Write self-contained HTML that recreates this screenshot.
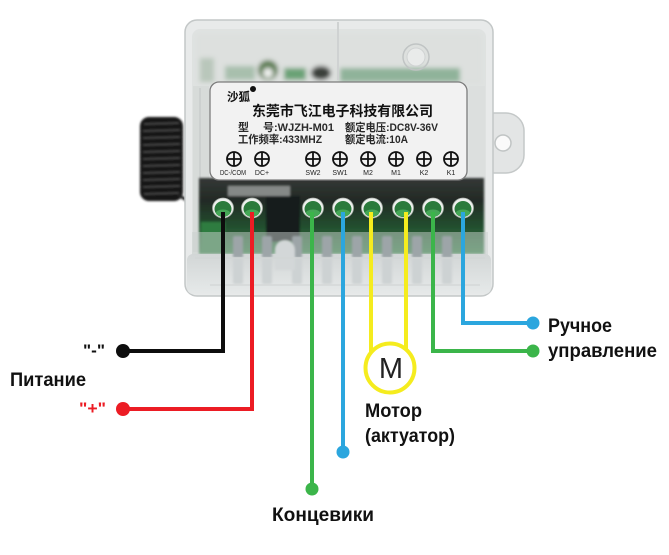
<!DOCTYPE html>
<html><head><meta charset="utf-8">
<style>
html,body{margin:0;padding:0;background:#fff;}
svg{display:block;}
.t{font-family:"Liberation Sans","Noto Sans CJK SC",sans-serif;font-weight:bold;}
.c{font-family:"Liberation Sans","Noto Sans CJK SC",sans-serif;}
</style></head><body>
<svg width="669" height="555" viewBox="0 0 669 555" xmlns="http://www.w3.org/2000/svg">
<defs>
<filter id="b1" x="-10%" y="-10%" width="120%" height="120%"><feGaussianBlur stdDeviation="1"/></filter>
<filter id="b2" x="-30%" y="-30%" width="160%" height="160%"><feGaussianBlur stdDeviation="2.5"/></filter>
<linearGradient id="pcb" x1="0" y1="0" x2="0" y2="1">
 <stop offset="0" stop-color="#343836"/>
 <stop offset="0.3" stop-color="#232a25"/>
 <stop offset="0.65" stop-color="#24502f"/>
 <stop offset="1" stop-color="#2f7d41"/>
</linearGradient>
<linearGradient id="bot" x1="0" y1="0" x2="0" y2="1">
 <stop offset="0" stop-color="#d2d6d6"/>
 <stop offset="1" stop-color="#e6e9e9"/>
</linearGradient>
</defs>
<rect width="669" height="555" fill="#fff"/>

<!-- antenna coil -->
<g filter="url(#b1)">
 <rect x="140" y="117" width="43" height="84" rx="9" fill="#151515"/>
 <g stroke="#505050" stroke-width="1.2">
  <line x1="144" y1="124" x2="179" y2="123"/>
  <line x1="143" y1="131" x2="180" y2="130"/>
  <line x1="143" y1="138" x2="180" y2="137"/>
  <line x1="143" y1="145" x2="180" y2="144"/>
  <line x1="143" y1="152" x2="180" y2="151"/>
  <line x1="143" y1="159" x2="180" y2="158"/>
  <line x1="143" y1="166" x2="180" y2="165"/>
  <line x1="143" y1="173" x2="180" y2="172"/>
  <line x1="143" y1="180" x2="180" y2="179"/>
  <line x1="143" y1="187" x2="180" y2="186"/>
  <line x1="144" y1="194" x2="179" y2="193"/>
 </g>
 <path d="M178 195 L190 202" stroke="#222" stroke-width="3"/>
</g>

<!-- right tab -->
<path d="M486 113 h20 a18 18 0 0 1 18 18 v24 a18 18 0 0 1 -18 18 h-20 z" fill="#e3e5e5" stroke="#c4c8c8" stroke-width="1.5"/>
<circle cx="503" cy="143" r="8" fill="#fafafa" stroke="#c0c4c4" stroke-width="1.5"/>

<!-- box body -->
<rect x="185" y="20" width="308" height="276" rx="12" fill="#e8eaea" stroke="#c3c7c7" stroke-width="1.5"/>
<rect x="192" y="29" width="294" height="261" rx="8" fill="#dfe2e1"/>

<!-- inner top area components -->
<g filter="url(#b2)">
 <rect x="196" y="34" width="286" height="50" fill="#dde0de"/>
 <rect x="200" y="58" width="14" height="24" fill="#b9c7bb"/>
 <circle cx="268" cy="70" r="10" fill="#5f7f55"/>
 <circle cx="268" cy="73" r="5" fill="#eef0ee"/>
 <rect x="284" y="68" width="22" height="12" fill="#6aa276"/>
 <ellipse cx="321" cy="73" rx="10" ry="7" fill="#3a3f3b"/>
 <rect x="340" y="68" width="120" height="14" fill="#8fb39a"/>
 <rect x="225" y="66" width="30" height="14" fill="#a8bfad"/>
</g>
<line x1="338" y1="22" x2="338" y2="80" stroke="#cfd2d2" stroke-width="2"/>
<circle cx="416" cy="57" r="13" fill="none" stroke="#c0c4c4" stroke-width="1.5"/>
<circle cx="416" cy="57" r="9" fill="#e9ebea" stroke="#d0d3d3"/>

<!-- left/right side bands -->
<rect x="193" y="86" width="16" height="166" fill="#d7dbd9"/>
<line x1="200" y1="88" x2="200" y2="250" stroke="#c9cdcc" stroke-width="1.5"/>
<rect x="469" y="86" width="16" height="166" fill="#dcdfde"/>

<!-- PCB dark area -->
<g filter="url(#b1)">
 <rect x="199" y="178" width="285" height="76" fill="url(#pcb)"/>
 <rect x="228" y="186" width="62" height="10" fill="#858987"/>
 <rect x="266" y="196" width="34" height="46" fill="#191c1a"/>
 <rect x="201" y="222" width="24" height="30" fill="#2f7c40"/>
</g>

<!-- terminal holes -->
<g>
 <g fill="#eef1ee" stroke="#aab0aa" stroke-width="0.8">
  <ellipse cx="223" cy="208" rx="10.5" ry="10"/>
  <ellipse cx="252" cy="208" rx="10.5" ry="10"/>
  <ellipse cx="313" cy="208" rx="10.5" ry="10"/>
  <ellipse cx="343" cy="208" rx="10.5" ry="10"/>
  <ellipse cx="372" cy="208" rx="10.5" ry="10"/>
  <ellipse cx="403" cy="208" rx="10.5" ry="10"/>
  <ellipse cx="433" cy="208" rx="10.5" ry="10"/>
  <ellipse cx="463" cy="208" rx="10.5" ry="10"/>
 </g>
 <g fill="#2a7a3b">
  <ellipse cx="223" cy="209" rx="8.5" ry="8"/>
  <ellipse cx="252" cy="209" rx="8.5" ry="8"/>
  <ellipse cx="313" cy="209" rx="8.5" ry="8"/>
  <ellipse cx="343" cy="209" rx="8.5" ry="8"/>
  <ellipse cx="372" cy="209" rx="8.5" ry="8"/>
  <ellipse cx="403" cy="209" rx="8.5" ry="8"/>
  <ellipse cx="433" cy="209" rx="8.5" ry="8"/>
  <ellipse cx="463" cy="209" rx="8.5" ry="8"/>
 </g>
 <g fill="#45a856">
  <ellipse cx="223" cy="213" rx="7" ry="3.5"/>
  <ellipse cx="252" cy="213" rx="7" ry="3.5"/>
  <ellipse cx="313" cy="213" rx="7" ry="3.5"/>
  <ellipse cx="343" cy="213" rx="7" ry="3.5"/>
  <ellipse cx="372" cy="213" rx="7" ry="3.5"/>
  <ellipse cx="403" cy="213" rx="7" ry="3.5"/>
  <ellipse cx="433" cy="213" rx="7" ry="3.5"/>
  <ellipse cx="463" cy="213" rx="7" ry="3.5"/>
 </g>
</g>

<!-- comb / bottom translucent part -->
<rect x="192" y="232" width="296" height="24" fill="#c9cfce" opacity="0.5"/>
<rect x="187" y="254" width="304" height="40" rx="6" fill="url(#bot)"/>
<g fill="#9da5a8" filter="url(#b1)">
 <rect x="233" y="236" width="10" height="22" rx="2"/>
 <rect x="262" y="236" width="10" height="22" rx="2"/>
 <rect x="292" y="236" width="10" height="22" rx="2"/>
 <rect x="322" y="236" width="10" height="22" rx="2"/>
 <rect x="352" y="236" width="10" height="22" rx="2"/>
 <rect x="382" y="236" width="10" height="22" rx="2"/>
 <rect x="412" y="236" width="10" height="22" rx="2"/>
 <rect x="442" y="236" width="10" height="22" rx="2"/>
</g>
<g fill="#cdd2d3" filter="url(#b1)">
 <rect x="233" y="258" width="10" height="26" rx="2"/>
 <rect x="262" y="258" width="10" height="26" rx="2"/>
 <rect x="292" y="258" width="10" height="26" rx="2"/>
 <rect x="322" y="258" width="10" height="26" rx="2"/>
 <rect x="352" y="258" width="10" height="26" rx="2"/>
 <rect x="382" y="258" width="10" height="26" rx="2"/>
 <rect x="412" y="258" width="10" height="26" rx="2"/>
 <rect x="442" y="258" width="10" height="26" rx="2"/>
</g>
<path d="M275 270 v-20 a10 10 0 0 1 20 0 v20 z" fill="#d3d7d8" filter="url(#b1)"/>
<line x1="195" y1="258" x2="485" y2="258" stroke="#d2d6d6" stroke-width="1.5"/>
<line x1="210" y1="285" x2="480" y2="285" stroke="#d5d8d8" stroke-width="1.5"/>

<!-- sticker label -->
<rect x="210" y="82" width="257" height="98" rx="9" fill="#f2f2f2" stroke="#7c7c7c" stroke-width="1.3"/>
<text x="227" y="101" font-size="12" class="t" fill="#111" textLength="23" lengthAdjust="spacingAndGlyphs">沙狐</text>
<circle cx="253" cy="89" r="3" fill="#111"/>
<text x="252" y="116" font-size="14" class="t" fill="#111" textLength="181" lengthAdjust="spacingAndGlyphs">东莞市飞江电子科技有限公司</text>
<g class="t" font-size="11" fill="#2a2a2a">
 <text x="238" y="131">型</text>
 <text x="263" y="131" textLength="71" lengthAdjust="spacingAndGlyphs">号:WJZH-M01</text>
 <text x="345" y="131" textLength="93" lengthAdjust="spacingAndGlyphs">额定电压:DC8V-36V</text>
 <text x="238" y="143" textLength="84" lengthAdjust="spacingAndGlyphs">工作频率:433MHZ</text>
 <text x="345" y="143" textLength="63" lengthAdjust="spacingAndGlyphs">额定电流:10A</text>
</g>
<g fill="none" stroke="#111" stroke-width="1.8">
 <circle cx="234" cy="159" r="7"/><path d="M227 159h14M234 152v14"/>
 <circle cx="262" cy="159" r="7"/><path d="M255 159h14M262 152v14"/>
 <circle cx="313" cy="159" r="7"/><path d="M306 159h14M313 152v14"/>
 <circle cx="340" cy="159" r="7"/><path d="M333 159h14M340 152v14"/>
 <circle cx="368" cy="159" r="7"/><path d="M361 159h14M368 152v14"/>
 <circle cx="396" cy="159" r="7"/><path d="M389 159h14M396 152v14"/>
 <circle cx="424" cy="159" r="7"/><path d="M417 159h14M424 152v14"/>
 <circle cx="451" cy="159" r="7"/><path d="M444 159h14M451 152v14"/>
</g>
<g class="c" font-size="7" fill="#222" text-anchor="middle">
 <text x="233" y="175" textLength="26" lengthAdjust="spacingAndGlyphs">DC-/COM</text>
 <text x="262" y="175">DC+</text>
 <text x="313" y="175">SW2</text>
 <text x="340" y="175">SW1</text>
 <text x="368" y="175">M2</text>
 <text x="396" y="175">M1</text>
 <text x="424" y="175">K2</text>
 <text x="451" y="175">K1</text>
</g>

<!-- wires -->
<g fill="none" stroke-width="4" stroke-linejoin="miter">
 <path d="M223 212 V351 H123" stroke="#0d0d0d"/>
 <path d="M252 212 V409 H123" stroke="#ec1c24"/>
 <path d="M312 212 V489" stroke="#3bb54a"/>
 <path d="M343 212 V452" stroke="#2ba6de"/>
 <path d="M371 212 V354" stroke="#f5ec1e"/>
 <path d="M406 212 V350" stroke="#f5ec1e"/>
 <path d="M433 212 V351 H533" stroke="#3bb54a"/>
 <path d="M463 212 V323 H533" stroke="#2ba6de"/>
</g>
<circle cx="390" cy="368" r="24.5" fill="#fff" stroke="#f5ec1e" stroke-width="4"/>
<text x="391" y="378" font-size="29" class="c" fill="#222" text-anchor="middle">M</text>

<!-- dots -->
<circle cx="123" cy="351" r="7" fill="#0d0d0d"/>
<circle cx="123" cy="409" r="7" fill="#ec1c24"/>
<circle cx="312" cy="489" r="6.5" fill="#3bb54a"/>
<circle cx="343" cy="452" r="6.5" fill="#2ba6de"/>
<circle cx="533" cy="323" r="6.5" fill="#2ba6de"/>
<circle cx="533" cy="351" r="6.5" fill="#3bb54a"/>

<!-- labels -->
<g class="t" font-size="19" fill="#111">
 <text x="548" y="332" textLength="64" lengthAdjust="spacingAndGlyphs">Ручное</text>
 <text x="548" y="357" textLength="109" lengthAdjust="spacingAndGlyphs">управление</text>
 <text x="365" y="417" textLength="57" lengthAdjust="spacingAndGlyphs">Мотор</text>
 <text x="365" y="442" textLength="90" lengthAdjust="spacingAndGlyphs">(актуатор)</text>
 <text x="272" y="521" textLength="102" lengthAdjust="spacingAndGlyphs">Концевики</text>
 <text x="10" y="386" textLength="76" lengthAdjust="spacingAndGlyphs">Питание</text>
</g>
<text x="83" y="356" font-size="17" class="t" fill="#111" textLength="22" lengthAdjust="spacingAndGlyphs">"-"</text>
<text x="79" y="414" font-size="17" class="t" fill="#ec1c24" textLength="27" lengthAdjust="spacingAndGlyphs">"+"</text>
</svg>
</body></html>
